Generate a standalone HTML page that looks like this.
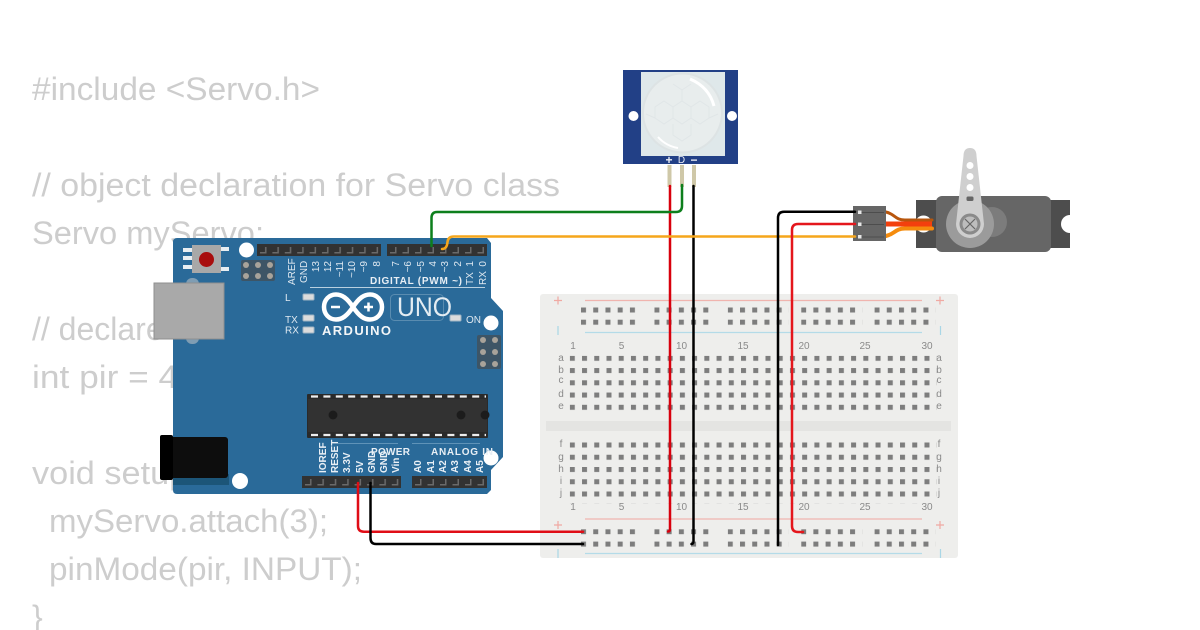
<!DOCTYPE html>
<html><head><meta charset="utf-8"><style>
html,body{margin:0;padding:0;background:#fff;width:1200px;height:630px;overflow:hidden}
svg{display:block;font-family:"Liberation Sans",sans-serif}
.code{font-size:32px;fill:#cdcdcd}
.b{fill:#dfe9f1;font-size:10px}
.bb{fill:#e8eff5;font-size:10px;font-weight:bold}
.n{fill:#8a8a8a;font-size:10px;text-anchor:middle}
.w{fill:none;stroke-linecap:round;stroke-linejoin:round}
</style></head><body>
<svg width="1200" height="630" viewBox="0 0 1200 630" xmlns="http://www.w3.org/2000/svg">
<defs>
<filter id="soft" x="0" y="0" width="100%" height="100%"><feGaussianBlur stdDeviation="0.35"/></filter>
<pattern id="h" x="569.8" y="0" width="12.23" height="12.25" patternUnits="userSpaceOnUse" patternTransform="translate(0,355.8)"><rect width="5" height="5" fill="#7d7d7d"/></pattern>
<pattern id="h2" x="569.8" y="0" width="12.23" height="12.25" patternUnits="userSpaceOnUse" patternTransform="translate(0,442.5)"><rect width="5" height="5" fill="#7d7d7d"/></pattern>
<pattern id="r1" x="581" y="0" width="12.23" height="12.2" patternUnits="userSpaceOnUse" patternTransform="translate(0,307.5)"><rect width="5" height="5" fill="#7d7d7d"/></pattern>
<pattern id="r2" x="581" y="0" width="12.23" height="12.4" patternUnits="userSpaceOnUse" patternTransform="translate(0,529.2)"><rect width="5" height="5" fill="#7d7d7d"/></pattern>
<pattern id="p1" x="257" y="244" width="12.4" height="12" patternUnits="userSpaceOnUse"><path d="M3 8h5V3h1.500v6.500H3z" fill="#6a6a6a"/></pattern>
<pattern id="p2" x="387" y="244" width="12.5" height="12" patternUnits="userSpaceOnUse"><path d="M3 8h5V3h1.500v6.500H3z" fill="#6a6a6a"/></pattern>
<pattern id="p3" x="302" y="476" width="12.4" height="12" patternUnits="userSpaceOnUse"><path d="M3 8h5V3h1.500v6.500H3z" fill="#6a6a6a"/></pattern>
<pattern id="p4" x="412" y="476" width="12.5" height="12" patternUnits="userSpaceOnUse"><path d="M3 8h5V3h1.500v6.500H3z" fill="#6a6a6a"/></pattern>
</defs>
<g filter="url(#soft)">
<!-- code -->
<text class="code" x="32" y="100" textLength="288" lengthAdjust="spacingAndGlyphs">#include &lt;Servo.h&gt;</text>
<text class="code" x="32" y="196" textLength="528" lengthAdjust="spacingAndGlyphs">// object declaration for Servo class</text>
<text class="code" x="32" y="244" textLength="232" lengthAdjust="spacingAndGlyphs">Servo myServo;</text>
<text class="code" x="32" y="340">// declare</text>
<text class="code" x="32" y="388" textLength="156" lengthAdjust="spacingAndGlyphs">int pir = 4;</text>
<text class="code" x="32" y="484" textLength="200" lengthAdjust="spacingAndGlyphs">void setup() {</text>
<text class="code" x="49" y="532" textLength="279" lengthAdjust="spacingAndGlyphs">myServo.attach(3);</text>
<text class="code" x="49" y="580" textLength="313" lengthAdjust="spacingAndGlyphs">pinMode(pir, INPUT);</text>
<text class="code" x="32" y="628">}</text>

<!-- breadboard -->
<rect x="540" y="294" width="418" height="264" rx="3" fill="#eeeeec"/>
<rect x="546" y="421" width="405" height="10" fill="#e4e4e2"/>
<rect x="569.8" y="355.8" width="367" height="61.2" fill="url(#h)"/>
<rect x="569.8" y="442.5" width="367" height="61.2" fill="url(#h2)"/>
<g>
<rect x="581" y="307.5" width="61" height="24" fill="url(#r1)"/>
<rect x="654.4" y="307.5" width="61" height="24" fill="url(#r1)"/>
<rect x="727.8" y="307.5" width="61" height="24" fill="url(#r1)"/>
<rect x="801.2" y="307.5" width="61" height="24" fill="url(#r1)"/>
<rect x="874.6" y="307.5" width="61" height="24" fill="url(#r1)"/>
<rect x="581" y="529.2" width="61" height="24" fill="url(#r2)"/>
<rect x="654.4" y="529.2" width="61" height="24" fill="url(#r2)"/>
<rect x="727.8" y="529.2" width="61" height="24" fill="url(#r2)"/>
<rect x="801.2" y="529.2" width="61" height="24" fill="url(#r2)"/>
<rect x="874.6" y="529.2" width="61" height="24" fill="url(#r2)"/>
</g>
<g stroke-width="1.2">
<path d="M585 300.500H922M585 519H922" stroke="#f0b4ae"/>
<path d="M585 332.500H922M585 553.500H922" stroke="#b4dbe8"/>
<path d="M554 300.500h8M558 296.500v8M936 300.500h8M940 296.500v8M554 525h8M558 521v8M936 525h8M940 521v8" stroke="#f0a9a2"/>
<path d="M558 326v9M940.500 326v9M558 549v9M940.500 549v9" stroke="#a9d6e6"/>
</g>
<g class="n">
<text x="573" y="349">1</text><text x="621.500" y="349">5</text><text x="681.500" y="349">10</text><text x="743" y="349">15</text><text x="804" y="349">20</text><text x="865" y="349">25</text><text x="927" y="349">30</text>
<text x="573" y="510">1</text><text x="621.500" y="510">5</text><text x="681.500" y="510">10</text><text x="743" y="510">15</text><text x="804" y="510">20</text><text x="865" y="510">25</text><text x="927" y="510">30</text>
<text x="561" y="361">a</text><text x="561" y="373">b</text><text x="561" y="383">c</text><text x="561" y="397">d</text><text x="561" y="409">e</text>
<text x="939" y="361">a</text><text x="939" y="373">b</text><text x="939" y="383">c</text><text x="939" y="397">d</text><text x="939" y="409">e</text>
<text x="561" y="447">f</text><text x="561" y="460">g</text><text x="561" y="472">h</text><text x="561" y="484">i</text><text x="561" y="496">j</text>
<text x="939" y="447">f</text><text x="939" y="460">g</text><text x="939" y="472">h</text><text x="939" y="484">i</text><text x="939" y="496">j</text>
</g>

<!-- arduino board -->
<path d="M177 238H487L491 243V298L503 311V457L491 470V490L487 494H177Q173 494 173 490V242Q173 238 177 238Z" fill="#2b6a99"/>
<rect x="186" y="278" width="13" height="66" rx="6" fill="#7f9db3"/>
<rect x="154" y="283" width="70" height="56" fill="#a9a9a9"/>
<rect x="154" y="283" width="70" height="56" fill="none" stroke="#8f8f8f" stroke-width="1"/>
<rect x="173" y="474" width="56" height="11" fill="#1f5478"/>
<rect x="170" y="437" width="58" height="41" rx="3" fill="#0b0b0b"/>
<rect x="160" y="435" width="13" height="45" rx="2" fill="#000"/>

<!-- reset -->
<path d="M183 248h10v4h-10zM183 265h10v4h-10zM183 256h10v4h-10zM219 247h10v4h-10zM219 267h10v4h-10z" fill="#e8eef2"/>
<rect x="192" y="245" width="29" height="28" fill="#a8a8a8"/>
<circle cx="206.500" cy="259.500" r="7.500" fill="#a80a0a"/>
<!-- holes -->
<g fill="#fff"><circle cx="246.500" cy="250" r="7.500"/><circle cx="491" cy="323" r="7.500"/><circle cx="491" cy="458" r="7.500"/><circle cx="240" cy="481" r="8"/></g>
<!-- ICSP -->
<rect x="241" y="260" width="34" height="21" rx="2" fill="#3e5566"/>
<g fill="#a8a39a"><circle cx="246" cy="265" r="3"/><circle cx="258" cy="265" r="3"/><circle cx="270" cy="265" r="3"/><circle cx="246" cy="276" r="3"/><circle cx="258" cy="276" r="3"/><circle cx="270" cy="276" r="3"/></g>
<rect x="477" y="335" width="24" height="34" rx="2" fill="#3e5566"/>
<g fill="#a8a39a"><circle cx="483" cy="340" r="3"/><circle cx="495" cy="340" r="3"/><circle cx="483" cy="352" r="3"/><circle cx="495" cy="352" r="3"/><circle cx="483" cy="364" r="3"/><circle cx="495" cy="364" r="3"/></g>
<!-- headers -->
<rect x="257" y="244" width="124" height="12" fill="#333"/><rect x="257" y="244" width="124" height="12" fill="url(#p1)"/>
<rect x="387" y="244" width="100" height="12" fill="#333"/><rect x="387" y="244" width="100" height="12" fill="url(#p2)"/>
<rect x="302" y="476" width="99" height="12" fill="#333"/><rect x="302" y="476" width="99" height="12" fill="url(#p3)"/>
<rect x="412" y="476" width="75" height="12" fill="#333"/><rect x="412" y="476" width="75" height="12" fill="url(#p4)"/>
<!-- IC -->
<rect x="307" y="394" width="181" height="44" rx="1" fill="#2b2b2b"/>
<path d="M311 396.500H486M311 435H486" stroke="#eee" stroke-width="2.200" stroke-dasharray="7 5.400"/>
<rect x="308" y="399" width="179" height="33" fill="#333"/>
<g fill="#1f1f1f"><circle cx="333" cy="415" r="4.500"/><circle cx="461" cy="415" r="4.500"/><circle cx="485" cy="415" r="4.500"/></g>
<!-- LEDs -->
<g fill="#dcdcdc" stroke="#9fb4c4" stroke-width="1"><rect x="303" y="294" width="11" height="6" rx="1"/><rect x="303" y="315" width="11" height="6" rx="1"/><rect x="303" y="327" width="11" height="6" rx="1"/><rect x="450" y="315" width="11" height="6" rx="1"/></g>
<!-- logo -->
<g fill="none" stroke="#fff" stroke-width="4.500"><path d="M353 307C347 298 342 294.500 336 294.500C329 294.500 324 300 324 307C324 314 329 319.500 336 319.500C342 319.500 347 316 353 307C359 298 364 294.500 370 294.500C377 294.500 382 300 382 307C382 314 377 319.500 370 319.500C364 319.500 359 316 353 307Z"/></g>
<path d="M331 307h9M364 307h9M368.500 302.500v9" stroke="#fff" stroke-width="2.500"/>
<text x="322" y="335" fill="#f3f6f8" font-size="13" font-weight="bold" textLength="69" lengthAdjust="spacing">ARDUINO</text>
<rect x="390.500" y="294.500" width="53" height="26" rx="4" fill="none" stroke="#5a8cb0" stroke-width="1"/>
<text x="397" y="316" fill="#e3ecf2" font-size="27" textLength="55" lengthAdjust="spacingAndGlyphs">UNO</text>
<text class="bb" x="370" y="284" textLength="92" lengthAdjust="spacing">DIGITAL (PWM ~)</text>
<path d="M310 287.500H485" stroke="#b9d0e0" stroke-width="1"/>
<path d="M338 443.500H398M412 443.500H480" stroke="#5f93b8" stroke-width="1"/>
<text class="bb" x="371" y="455" textLength="39" lengthAdjust="spacing">POWER</text>
<text class="bb" x="431" y="455" textLength="62" lengthAdjust="spacing">ANALOG IN</text>
<text class="b" x="285" y="301" text-anchor="start">L</text>
<text class="b" x="285" y="323">TX</text><text class="b" x="285" y="333.500">RX</text><text class="b" x="466" y="323">ON</text>
<g class="b" text-anchor="end">
<text transform="translate(295,261) rotate(-90)" text-anchor="start" dx="-24">AREF</text>
<text transform="translate(307,261) rotate(-90)" text-anchor="start" dx="-22">GND</text>
<text transform="translate(319,261) rotate(-90)">13</text>
<text transform="translate(331,261) rotate(-90)">12</text>
<text transform="translate(343,261) rotate(-90)">~11</text>
<text transform="translate(355,261) rotate(-90)">~10</text>
<text transform="translate(367,261) rotate(-90)">~9</text>
<text transform="translate(380,261) rotate(-90)">8</text>
<text transform="translate(399,261) rotate(-90)">7</text>
<text transform="translate(411,261) rotate(-90)">~6</text>
<text transform="translate(424,261) rotate(-90)">~5</text>
<text transform="translate(436,261) rotate(-90)">4</text>
<text transform="translate(448,261) rotate(-90)">~3</text>
<text transform="translate(461,261) rotate(-90)">2</text>
<text transform="translate(473,261) rotate(-90)">1</text>
<text transform="translate(486,261) rotate(-90)">0</text>
<text transform="translate(473,285) rotate(-90)" text-anchor="start">TX</text>
<text transform="translate(486,285) rotate(-90)" text-anchor="start">RX</text>
</g>
<g class="bb">
<text transform="translate(326,473) rotate(-90)">IOREF</text>
<text transform="translate(338,473) rotate(-90)">RESET</text>
<text transform="translate(350,473) rotate(-90)">3.3V</text>
<text transform="translate(363,473) rotate(-90)">5V</text>
<text transform="translate(375,473) rotate(-90)">GND</text>
<text transform="translate(387,473) rotate(-90)">GND</text>
<text transform="translate(399,473) rotate(-90)">Vin</text>
<text transform="translate(421,473) rotate(-90)">A0</text>
<text transform="translate(434,473) rotate(-90)">A1</text>
<text transform="translate(446,473) rotate(-90)">A2</text>
<text transform="translate(458,473) rotate(-90)">A3</text>
<text transform="translate(471,473) rotate(-90)">A4</text>
<text transform="translate(483,473) rotate(-90)">A5</text>
</g>

<!-- PIR -->
<rect x="623" y="70" width="115" height="94" fill="#233f86"/>
<rect x="641" y="72" width="84" height="84" fill="#dfe8ea"/>
<circle cx="682.500" cy="113" r="39.500" fill="#e8eded" stroke="#dde3e4" stroke-width="2"/>
<g fill="none" stroke="#e0e6e7" stroke-width="1">
<path d="M682 101l9 6v11l-9 6-9-6v-11zM700 101l9 6v11l-9 6-9-6v-11zM664 101l9 6v11l-9 6-9-6v-11zM673 84l9 6v11M691 84l-9 6M673 124v11l9 6 9-6v-11M655 118l-9-4M709 118l9-4"/>
</g>
<path d="M690 79Q709 87 714 106" fill="none" stroke="#fff" stroke-width="3"/>
<path d="M658 137Q666 146 678 148" fill="none" stroke="#fff" stroke-width="2"/>
<circle cx="633.500" cy="116" r="5" fill="#fff"/><circle cx="732" cy="116" r="5" fill="#fff"/>
<text x="669" y="164" fill="#e8ecf5" font-size="12" font-weight="bold" text-anchor="middle">+</text>
<text x="681.500" y="163" fill="#e8ecf5" font-size="10" text-anchor="middle">D</text>
<text x="694" y="164" fill="#e8ecf5" font-size="12" font-weight="bold" text-anchor="middle">−</text>
<g fill="#cfc8a8"><rect x="667.500" y="165" width="4" height="22"/><rect x="680" y="165" width="4" height="22"/><rect x="692" y="165" width="4" height="22"/></g>

<!-- servo -->
<rect x="916" y="200" width="154" height="48" fill="#4d4d4d"/>
<circle cx="923.500" cy="224" r="8.500" fill="#fff"/>
<path d="M1070 215a8.500 8.500 0 1 0 0 18z" fill="#fff"/>
<rect x="936" y="196" width="115" height="56" rx="6" fill="#666"/>
<circle cx="992" cy="222" r="15" fill="#7b7b7b"/>
<circle cx="970" cy="224" r="24" fill="#9b9b9b"/>
<path d="M963.500 156Q963.500 148 970 148Q976.500 148 976.500 156L984 224A14 14 0 0 1 956 224Z" fill="#cfcfcf"/>
<g fill="#fff"><circle cx="970" cy="165.500" r="3.500"/><circle cx="970" cy="176.500" r="3.500"/><circle cx="970" cy="187.500" r="3.500"/></g>
<rect x="966.500" y="196.500" width="7" height="4.500" rx="1.500" fill="#666"/>
<circle cx="970" cy="224" r="10.500" fill="#8a8a8a"/>
<circle cx="970" cy="224" r="7.500" fill="#bdbdbd"/>
<path d="M965 219l10 10M975 219l-10 10" stroke="#666" stroke-width="1.200"/>
<!-- servo cable -->
<path class="w" d="M886 212C895 214 895 220 905 220H932" stroke="#b8560c" stroke-width="3"/>
<path class="w" d="M886 236C895 234 895 228.500 905 228.500H932" stroke="#f58c10" stroke-width="4"/>
<path d="M886 224H932" stroke="#f33f0a" stroke-width="5" fill="none"/>
<rect x="853" y="206" width="33" height="35" fill="#666"/>
<path d="M860 212.500H884M860 224.500H884M860 237H884" stroke="#4e4e4e" stroke-width="1"/>
<g fill="#e8e8e8"><rect x="858" y="210.500" width="3.500" height="3.500"/><rect x="858" y="222.500" width="3.500" height="3.500"/><rect x="858" y="235" width="3.500" height="3.500"/></g>

<!-- wires -->
<g class="w" stroke-width="2.500">
<path d="M670 186V529Q670 531.500 668 531.500" stroke="#d8000c"/>
<path d="M693.500 186V541Q693.500 544 691.500 544" stroke="#000"/>
<path d="M682 185V206Q682 212 676 212H437Q431.500 212 431.500 218V246" stroke="#0d7f1c"/>
<path d="M855 236.500H454Q448 236.500 447.500 242Q447 249 442 249" stroke="#f5a61d"/>
<path d="M855 211.700H784Q778 211.700 778 218V545" stroke="#000"/>
<path d="M855 224H798Q792 224 792 230V526Q792 532 798 532H803" stroke="#e4121c"/>
<path d="M358 483V526Q358 531.700 364 531.700H583" stroke="#e00a12"/>
<path d="M370.500 483V538Q370.500 544 376 544H583" stroke="#000"/>
</g>
</g>
</svg>
</body></html>
